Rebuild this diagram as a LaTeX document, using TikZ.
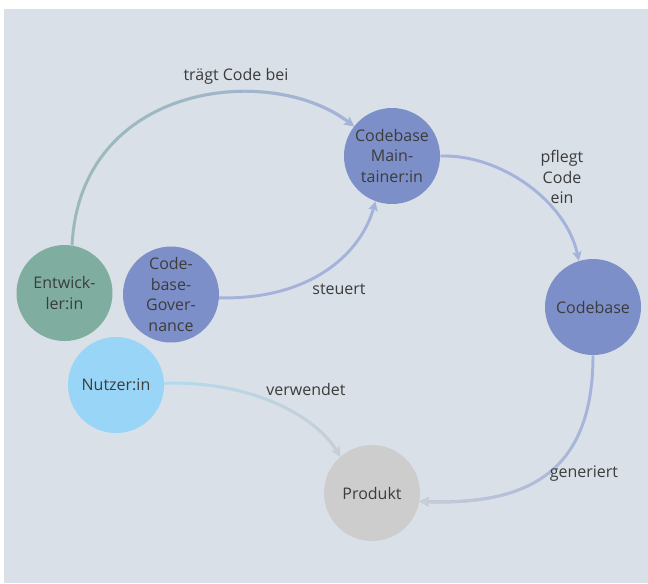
\documentclass[tikz,border=0pt]{standalone}
\usepackage{fontspec}
\setmainfont{Open Sans}
\usetikzlibrary{positioning,arrows.meta,fadings}
\definecolor{bgblue}{HTML}{D9E0E7}
\definecolor{devgreen}{HTML}{7FAEA0}
\definecolor{codeblue}{HTML}{7D8FC8}
\definecolor{userblue}{HTML}{99D5F6}
\definecolor{prodgrey}{HTML}{CDCDCD}
\definecolor{textgrey}{HTML}{3C3C3C}
\definecolor{linkgreen}{HTML}{9BBAB9}
\definecolor{linkblue}{HTML}{A5B3DC}
\definecolor{linkcyan}{HTML}{B3DAEF}
\definecolor{linkgrey}{HTML}{C9CED6}
\tikzfading[name=fade in east, left color=transparent!100, right color=transparent!0]

\begin{document}
\begin{tikzpicture}[
    x=0.75pt, y=-0.75pt,
    >={Stealth[length=7pt,width=7pt,inset=1.5pt]},
    every node/.style={font=\fontsize{12}{15.5}\selectfont, text=textgrey},
    role/.style={
      circle, minimum size=72pt, inner sep=0pt,
      align=center
    },
    edgelabel/.style={align=center},
    link/.style={line width=2.2pt, ->},
  ]

  % Canvas
  \useasboundingbox (0,0) rectangle (648,583);
  \fill[bgblue] (4,9) rectangle (648,583);

  % Nodes
  \node[role, fill=devgreen] (dev)   at (64.5,293)  {Entwick-\\ler:in};
  \node[role, fill=codeblue] (gov)   at (171,294.5) {Code-\\base-\\Gover-\\nance};
  \node[role, fill=userblue] (user)  at (116,385)   {Nutzer:in};
  \node[role, fill=codeblue] (maint) at (392,156)   {Codebase\\Main-\\tainer:in};
  \node[role, fill=codeblue] (base)  at (593,307)   {Codebase};
  \node[role, fill=prodgrey] (prod)  at (372,493)   {Produkt};

  % Contribution: green fading into blue
  \draw[link, linkgreen] (dev.81) .. controls +(8,-163) and +(-83,-64) .. (maint.142);
  \draw[link, linkblue, path fading=fade in east]
    (dev.81) .. controls +(8,-163) and +(-83,-64) .. (maint.142);

  % Maintenance and governance
  \draw[link, linkblue] (maint.0) .. controls +(60,-2) and +(-13,-60) .. (base.107);
  \draw[link, linkblue] (gov.-4) .. controls +(91,2) and +(-15,53) .. (maint.250);

  % Usage: cyan fading into grey
  \draw[link, linkcyan] (user.2) .. controls +(86,-3) and +(-25,-41) .. (prod.131);
  \draw[link, linkgrey, path fading=fade in east]
    (user.2) .. controls +(86,-3) and +(-25,-41) .. (prod.131);

  % Generation: blue fading into grey
  \draw[link, linkblue] (base.-90) .. controls +(0,115) and +(111,4) .. (prod.-10);
  \draw[link, linkgrey, path fading=fade in east, fading angle=180]
    (base.-90) .. controls +(0,115) and +(111,4) .. (prod.-10);

  % Labels
  \node[edgelabel] (lblcontrib)  at (236,76)  {trägt Code bei};
  \node[edgelabel] (lblmaintain) at (562,177) {pflegt\\Code\\ein};
  \node[edgelabel] (lblsteer)    at (339,289) {steuert};
  \node[edgelabel] (lbluse)      at (306,389) {verwendet};
  \node[edgelabel] (lblgen)      at (584,474) {generiert};

\end{tikzpicture}
\end{document}
